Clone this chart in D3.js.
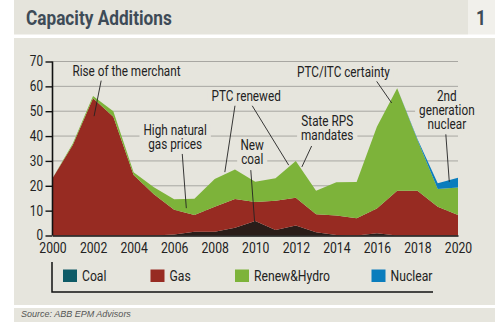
<!DOCTYPE html>
<html lang="en">
<head>
<meta charset="utf-8">
<title>Capacity Additions</title>
<script src="https://cdn.jsdelivr.net/npm/d3@7"></script>
<style>
  body { margin: 0; background: #fff; }
  svg text { font-family: Roboto, 'DejaVu Sans Condensed', sans-serif; }
</style>
</head>
<body>
<div id="chart"></div>
<script>
// data (GW per year)
var years   = [2000,2001,2002,2003,2004,2005,2006,2007,2008,2009,2010,2011,2012,2013,2014,2015,2016,2017,2018,2019,2020];
var coal    = [0, 0, 0, 0, 0, 0, 0.4, 1.5, 1.5, 3.1, 5.8, 2.2, 4.0, 1.3, 0.2, 0, 0.9, 0, 0, 0, 0];
var gas     = [23, 36.4, 55.2, 47.8, 24.3, 16.6, 10.0, 6.7, 10.1, 11.6, 7.7, 11.8, 11.2, 7.2, 7.8, 6.9, 10.0, 18, 18, 11.6, 8.2];
var renew   = [0, 0.6, 0.9, 2.2, 1.1, 2.8, 4.2, 6.6, 11.1, 11.9, 8.1, 9.0, 14.8, 9.5, 13.4, 14.6, 32.9, 41.2, 20.4, 7.1, 11.1];
var nuclear = [0, 0, 0, 0, 0, 0, 0, 0, 0, 0, 0, 0, 0, 0, 0, 0, 0, 0, 0.4, 2.3, 3.9];

var seriesNames = ["Coal", "Gas", "Renew&Hydro", "Nuclear"];
var xTicks = [2000,2002,2004,2006,2008,2010,2012,2014,2016,2018,2020];
var yTicks = [0,10,20,30,40,50,60,70];

// annotations: lines of text, label anchor (year, value), pointer from/to (year, value)
var notes = [
  {lines: ["Rise of the merchant"], at: [2003.65, 64.3], ptr: [[2002.4, 62.3], [2002.05, 48]]},
  {lines: ["High natural", "gas prices"], at: [2006.05, 40.4], ptr: [[2006.4, 32.8], [2006.6, 11]]},
  {lines: ["PTC renewed"], at: [2009.55, 54], ptr: [[2009.0, 52.2], [2008.5, 25.5]]},
  {lines: ["PTC renewed"], at: null, ptr: [[2009.85, 52.2], [2011.65, 28.3]]},
  {lines: ["New", "coal"], at: [2009.85, 34.4], ptr: [[2009.78, 26.3], [2009.98, 4.2]]},
  {lines: ["State RPS", "mandates"], at: [2013.55, 44.2], ptr: [[2012.78, 36.0], [2012.3, 27.6]]},
  {lines: ["PTC/ITC certainty"], at: [2014.35, 63.8], ptr: [[2015.99, 62.0], [2016.73, 53.3]]},
  {lines: ["2nd", "generation", "nuclear"], at: [2019.45, 54], ptr: [[2019.4, 40.7], [2019.57, 21.6]]}
];

var W = 500, H = 322;
var SX = 0.84; // horizontal squeeze, the original face is a condensed one
var panelBg = "#e6e5dd";
var colors = {"Coal": "#2a1d19", "Gas": "#972b22", "Renew&Hydro": "#7db33a", "Nuclear": "#0a7dbd"};
var legendColors = {"Coal": "#0e5b66", "Gas": "#972b22", "Renew&Hydro": "#7db33a", "Nuclear": "#0a7dbd"};

var svg = d3.select("#chart").append("svg")
  .attr("width", W)
  .attr("height", H);

// condensed text helper
function narrowText(parent, tx, ty, str, size, anchor) {
  return parent.append("text")
    .attr("transform", "translate(" + tx + "," + ty + ") scale(" + SX + ",1)")
    .attr("text-anchor", anchor || "start")
    .style("font-size", size + "px")
    .attr("fill", "#222")
    .text(str);
}

// title bar
svg.append("rect").attr("x", 14).attr("y", 0).attr("width", 454).attr("height", 34.5).attr("fill", "#e5e4dc");
svg.append("rect").attr("x", 468).attr("y", 0).attr("width", 27).attr("height", 34.5).attr("fill", "#f1f0eb");
narrowText(svg, 26, 25, "Capacity Additions", 20.5).style("font-weight", "bold").attr("fill", "#3e4b57");
narrowText(svg, 481, 25, "1", 20.5, "middle").style("font-weight", "bold").attr("fill", "#3e4b57");

// chart panel and source band
svg.append("rect").attr("x", 14).attr("y", 38).attr("width", 481).attr("height", 267).attr("fill", panelBg);
svg.append("rect").attr("x", 14).attr("y", 308).attr("width", 481).attr("height", 14).attr("fill", panelBg);
svg.append("text").attr("x", 21).attr("y", 316.5)
  .style("font-family", "'Liberation Sans', Arial, sans-serif")
  .style("font-size", "9px").style("font-style", "italic").attr("fill", "#555")
  .text("Source: ABB EPM Advisors");

// scales
var x = d3.scaleLinear().domain([2000, 2020]).range([52.5, 458]);
var y = d3.scaleLinear().domain([0, 70]).range([235.5, 61.5]);

// gridlines
svg.append("g").selectAll("line")
  .data(yTicks.filter(function(d) { return d > 0; }))
  .enter().append("line")
  .attr("x1", x(2000)).attr("x2", x(2020))
  .attr("y1", function(d) { return y(d); }).attr("y2", function(d) { return y(d); })
  .attr("stroke", "#a8a7a2").attr("stroke-width", 1);

// stacked areas
var table = years.map(function(yr, i) {
  return {year: yr, "Coal": coal[i], "Gas": gas[i], "Renew&Hydro": renew[i], "Nuclear": nuclear[i]};
});
var stack = d3.stack().keys(seriesNames)(table);
var area = d3.area()
  .x(function(d) { return x(d.data.year); })
  .y0(function(d) { return y(d[0]); })
  .y1(function(d) { return y(d[1]); });

svg.append("g").selectAll("path")
  .data(stack).enter().append("path")
  .attr("d", area)
  .attr("fill", function(d) { return colors[d.key]; });

// annotation labels with panel-coloured backing so gridlines break round them
var noteG = svg.append("g");
notes.forEach(function(n) {
  if (!n.at) return;
  n.lines.forEach(function(t, i) {
    var cx = x(n.at[0]), by = y(n.at[1]) + i * 14;
    var txt = narrowText(noteG, cx, by, t, 14, "middle");
    var w = txt.node().getComputedTextLength() * SX;
    noteG.insert("rect", "text")
      .attr("x", cx - w / 2 - 4).attr("y", by - 10.5)
      .attr("width", w + 8).attr("height", 14)
      .attr("fill", panelBg);
  });
});

// pointer lines
svg.append("g").selectAll("line")
  .data(notes).enter().append("line")
  .attr("x1", function(d) { return x(d.ptr[0][0]); })
  .attr("y1", function(d) { return y(d.ptr[0][1]); })
  .attr("x2", function(d) { return x(d.ptr[1][0]); })
  .attr("y2", function(d) { return y(d.ptr[1][1]); })
  .attr("stroke", "#222").attr("stroke-width", 0.9);

// axes
var yAxis = d3.axisLeft(y).tickValues(yTicks).tickSize(7).tickPadding(2);
var gy = svg.append("g").attr("transform", "translate(" + x(2000) + ",0)").call(yAxis);
gy.select(".domain").attr("stroke", "#111").attr("stroke-width", 1.6).attr("d", "M0," + y(0) + "V" + y(70));
gy.selectAll(".tick line").attr("stroke", "#111").attr("stroke-width", 1.4);
gy.selectAll("text")
  .style("font-size", "14px").attr("fill", "#222")
  .attr("x", -9.5 / SX)
  .attr("transform", "scale(" + SX + ",1)");

var xAxis = d3.axisBottom(x).tickValues(xTicks).tickFormat(d3.format("d")).tickSize(0).tickPadding(7.5);
var gx = svg.append("g").attr("transform", "translate(0," + y(0) + ")").call(xAxis);
gx.select(".domain").attr("stroke", "#111").attr("stroke-width", 1.6);
gx.selectAll("text")
  .style("font-size", "14.5px").attr("fill", "#222")
  .attr("transform", "scale(" + SX + ",1)");

// legend
svg.append("path")
  .attr("d", "M52,262V292H433")
  .attr("fill", "none").attr("stroke", "#111").attr("stroke-width", 1.5);
var legendX = [63, 150.5, 235, 371.5];
var lg = svg.append("g").selectAll("g")
  .data(seriesNames).enter().append("g")
  .attr("transform", function(d, i) { return "translate(" + legendX[i] + ",269.5)"; });
lg.append("rect").attr("width", 14).attr("height", 12.5)
  .attr("fill", function(d) { return legendColors[d]; });
lg.each(function(d) {
  narrowText(d3.select(this), 19, 11.3, d, 14.5);
});
</script>
</body>
</html>
